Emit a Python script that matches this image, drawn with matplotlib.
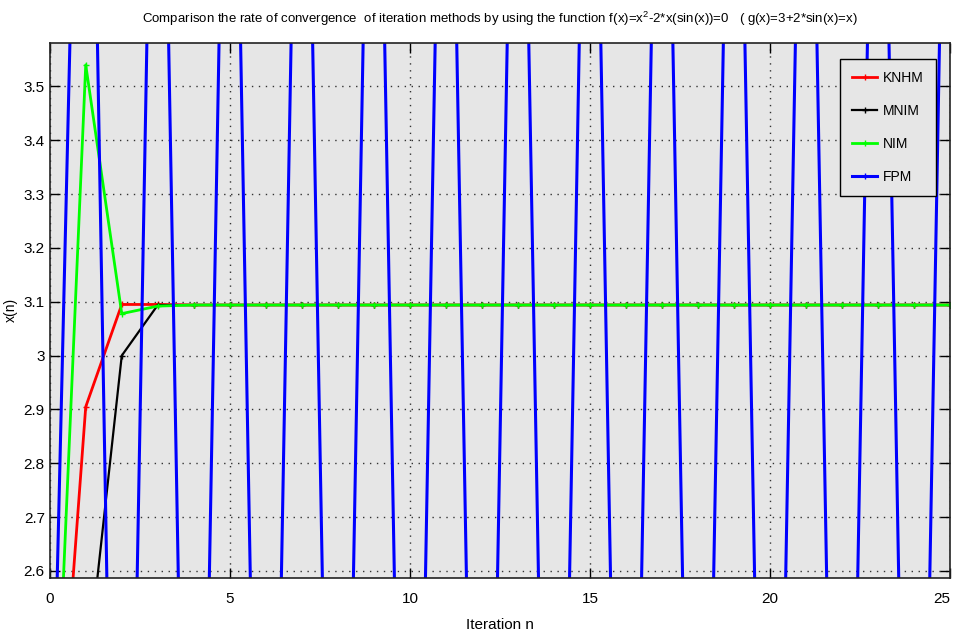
import matplotlib
matplotlib.use("Agg")
from matplotlib import pyplot as plt

plt.rcParams['font.family'] = ['Liberation Sans Narrow', 'Liberation Sans', 'DejaVu Sans']
plt.rcParams['mathtext.default'] = 'regular'

# iteration values x(n), n = 0..25
n = list(range(26))
knhm = [2.0, 2.905, 3.095, 3.095] + [3.094] * 22
mnim = [2.0, 2.39, 3.0, 3.094] + [3.094] * 22
nim = [2.0, 3.54, 3.078, 3.092] + [3.094] * 22
fpm = [2.0, 4.819, 1.012, 4.696, 1.000, 4.683, 1.000, 4.683, 1.000, 4.683,
       1.000, 4.683, 1.000, 4.683, 1.000, 4.683, 1.000, 4.683, 1.000, 4.683,
       1.000, 4.683, 1.000, 4.683, 1.000, 4.683]

fig = plt.figure(figsize=(9.56, 6.39), dpi=100)
ax = fig.add_axes([0.052, 0.0955, 0.942, 0.8375])
ax.set_facecolor('#e6e6e6')

ax.plot(n, knhm, color='red', lw=2, marker='+', ms=5, label='KNHM')
ax.plot(n, mnim, color='black', lw=1.6, marker='+', ms=5, label='MNIM')
ax.plot(n, nim, color='#00ff00', lw=2, marker='+', ms=5, label='NIM')
ax.plot(n, fpm, color='blue', lw=2.2, marker='+', ms=5, label='FPM')

ax.set_xlim(0, 25)
ax.set_ylim(2.587, 3.581)
ax.set_xticks([0, 5, 10, 15, 20, 25])
ax.set_yticks([2.6, 2.7, 2.8, 2.9, 3.0, 3.1, 3.2, 3.3, 3.4, 3.5])
ax.set_yticklabels(['2.6', '2.7', '2.8', '2.9', '3', '3.1', '3.2', '3.3', '3.4', '3.5'])
ax.tick_params(direction='in', length=7, width=1, top=True, right=True, labelsize=11)
ax.tick_params(axis='x', pad=10)
ax.get_xticklabels()[-1].set_horizontalalignment('right')
ax.grid(True, color='#333333', linestyle=(0, (1, 4)), linewidth=1)
for s in ax.spines.values():
    s.set_linewidth(1.2)
    s.set_color('#222222')

ax.set_title('Comparison the rate of convergence  of iteration methods by using the function '
             'f(x)=x$^2$-2*x(sin(x))=0   ( g(x)=3+2*sin(x)=x)', fontsize=9.5, pad=14)
ax.set_xlabel('Iteration n', fontsize=11, labelpad=9)
ax.set_ylabel('x(n)', fontsize=10)
ax.yaxis.set_label_coords(-0.035, 0.5)

leg = ax.legend(loc='upper right', fontsize=10, fancybox=False, framealpha=1,
                facecolor='#e6e6e6', edgecolor='black', handlelength=1.8,
                handletextpad=0.4, labelspacing=1.35, borderpad=0.9,
                bbox_to_anchor=(0.992, 0.983))
leg.get_frame().set_linewidth(1)

fig.savefig('out.png', dpi=100)
